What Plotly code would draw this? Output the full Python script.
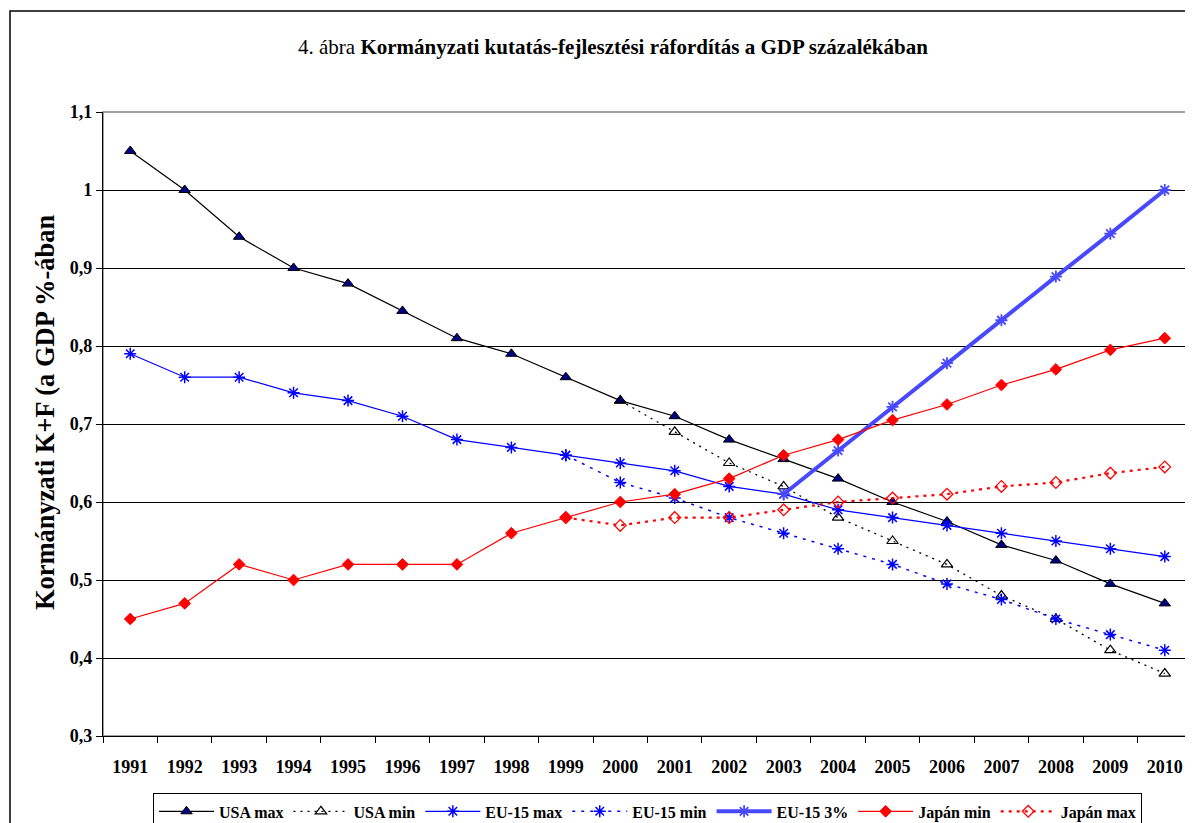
import plotly.graph_objects as go

evek = [str(e) for e in range(1991, 2011)]

usa_max = [1.05, 1.0, 0.94, 0.90, 0.88, 0.845, 0.81, 0.79, 0.76, 0.73,
           0.71, 0.68, 0.655, 0.63, 0.60, 0.575, 0.545, 0.525, 0.495, 0.47]
usa_min = [None] * 9 + [0.73, 0.69, 0.65, 0.62, 0.58, 0.55, 0.52, 0.48, 0.45, 0.41, 0.38]
eu_max = [0.79, 0.76, 0.76, 0.74, 0.73, 0.71, 0.68, 0.67, 0.66, 0.65,
          0.64, 0.62, 0.61, 0.59, 0.58, 0.57, 0.56, 0.55, 0.54, 0.53]
eu_min = [None] * 8 + [0.66, 0.625, 0.605, 0.58, 0.56, 0.54, 0.52, 0.495, 0.475, 0.45, 0.43, 0.41]
eu_3 = [None] * 12 + [0.61, 0.666, 0.722, 0.778, 0.833, 0.889, 0.944, 1.0]
japan_min = [0.45, 0.47, 0.52, 0.50, 0.52, 0.52, 0.52, 0.56, 0.58, 0.60,
             0.61, 0.63, 0.66, 0.68, 0.705, 0.725, 0.75, 0.77, 0.795, 0.81]
japan_max = [None] * 8 + [0.58, 0.57, 0.58, 0.58, 0.59, 0.60, 0.605, 0.61, 0.62, 0.625, 0.637, 0.645]

betu = "Liberation Serif"

fig = go.Figure()

# USA
fig.add_trace(go.Scatter(x=evek, y=usa_max, name="USA max", mode="lines+markers",
                         line=dict(color="black", width=1.2),
                         marker=dict(symbol="triangle-up", size=10, color="#000080",
                                     line=dict(color="black", width=1))))
fig.add_trace(go.Scatter(x=evek, y=usa_min, name="USA min", mode="lines+markers",
                         line=dict(color="black", width=1.3, dash="2px,5px"),
                         marker=dict(symbol="triangle-up-open", size=10, color="black",
                                     line=dict(width=1.2))))
# EU-15
fig.add_trace(go.Scatter(x=evek, y=eu_max, name="EU-15 max", mode="lines+markers",
                         line=dict(color="blue", width=1.2),
                         marker=dict(symbol="asterisk-open", size=10,
                                     line=dict(color="blue", width=1.5))))
fig.add_trace(go.Scatter(x=evek, y=eu_min, name="EU-15 min", mode="lines+markers",
                         line=dict(color="blue", width=1.5, dash="3px,6px"),
                         marker=dict(symbol="asterisk-open", size=10,
                                     line=dict(color="blue", width=1.5))))
fig.add_trace(go.Scatter(x=evek, y=eu_3, name="EU-15 3%", mode="lines+markers",
                         line=dict(color="#4848ff", width=4),
                         marker=dict(symbol="asterisk-open", size=10,
                                     line=dict(color="#1010ff", width=1.8))))
# Japán
fig.add_trace(go.Scatter(x=evek, y=japan_min, name="Japán min", mode="lines+markers",
                         line=dict(color="red", width=1.2),
                         marker=dict(symbol="diamond", size=9, color="red",
                                     line=dict(color="red", width=1))))
fig.add_trace(go.Scatter(x=evek, y=japan_max, name="Japán max", mode="lines+markers",
                         line=dict(color="red", width=2.2, dash="3px,5px"),
                         marker=dict(symbol="diamond-open", size=9, color="red",
                                     line=dict(width=1.3))))

# szürke keret a rajzterület körül
fig.add_shape(type="rect", xref="paper", yref="paper", x0=0, y0=0, x1=1, y1=1,
              line=dict(color="#808080", width=1.5), layer="below")
# külső keret
fig.add_shape(type="rect", xref="paper", yref="paper", x0=-0.0854, y0=-0.4, x1=1.1, y1=1.162,
              line=dict(color="black", width=1.5), layer="below")

fig.add_annotation(text="<b>Kormányzati K+F (a GDP %-ában</b>", xref="paper", yref="paper",
                   x=-0.0533, y=0.519, xanchor="center", yanchor="middle",
                   textangle=-90, showarrow=False,
                   font=dict(family=betu, size=26.5, color="black"))

# a böngésző 8 px margója miatt 1185x815
fig.update_layout(
    width=1185, height=815,
    margin=dict(l=95, r=1, t=104, b=87, autoexpand=False),
    paper_bgcolor="white", plot_bgcolor="white",
    separators=", ",
    font=dict(family=betu, color="black"),
    title=dict(text="4. ábra <b>Kormányzati kutatás-fejlesztési ráfordítás a GDP százalékában</b>",
               x=0.5105, xanchor="center", y=0.952, yanchor="middle",
               font=dict(family=betu, size=21, color="black")),
    legend=dict(orientation="h", x=0.5, xanchor="center", y=-0.092, yanchor="top",
                bordercolor="black", borderwidth=1,
                font=dict(family=betu, size=16, color="black", weight="bold"),
                itemwidth=55, tracegroupgap=0),
    xaxis=dict(type="category", range=[-0.5, 19.5], showgrid=False, showline=True,
               linecolor="black", linewidth=1.2, ticks="outside", tickson="boundaries",
               ticklen=6, tickcolor="black", ticklabelstandoff=14,
               tickfont=dict(family=betu, size=18, color="black", weight="bold")),
    yaxis=dict(range=[0.3, 1.1], dtick=0.1, showgrid=True, gridcolor="black",
               gridwidth=1, showline=True, linecolor="black", linewidth=1.2,
               ticks="outside", ticklen=6, tickcolor="black", zeroline=False,
               tickfont=dict(family=betu, size=18, color="black", weight="bold")),
)

fig.write_html("out.html")
